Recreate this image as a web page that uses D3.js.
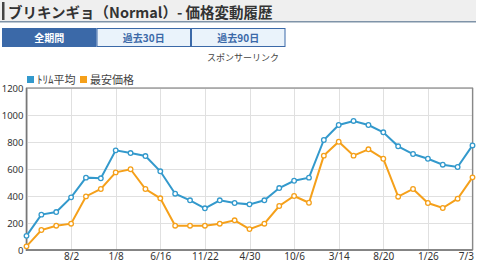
<!DOCTYPE html>
<html><head><meta charset="utf-8">
<script src="https://cdn.jsdelivr.net/npm/d3@7"></script>
<style>
html,body{margin:0;padding:0;background:#fff;}
svg{display:block;font-family:"Noto Sans CJK JP","Noto Sans",sans-serif;}
</style></head>
<body><svg id="c" width="480" height="267"></svg>
<script>
const categories = ["2/24","4/18","6/10","8/2","9/24","11/16","1/8","3/2","4/24","6/16","8/8","9/30","11/22","1/14","3/8","4/30","6/22","8/14","10/6","11/28","1/20","3/14","5/6","6/28","8/20","10/12","12/4","1/26","3/20","5/12","7/3"];
const tickLabels = ["8/2","1/8","6/16","11/22","4/30","10/6","3/14","8/20","1/26","7/3"];
const trimAvg = [105,262,281,390,536,531,738,718,696,583,417,368,309,368,348,338,368,459,513,536,815,926,956,926,872,768,711,676,632,615,775];
const lowest = [27,148,180,195,397,452,575,598,452,383,180,180,180,195,220,155,195,326,400,350,699,802,699,746,676,395,452,348,311,380,538];
const yTicks = [0,200,400,600,800,1000,1200];
const seriesNames = ["ﾄﾘﾑ平均","最安価格"];
const colors = ["#3399cc","#f5a01a"];

const svg = d3.select("#c");
// title bar
svg.append("rect").attr("x",0).attr("y",0).attr("width",476).attr("height",21).attr("fill","#efefef");
svg.append("rect").attr("x",0).attr("y",21).attr("width",476).attr("height",1.5).attr("fill","#7f93a8");
svg.append("rect").attr("x",2).attr("y",2).attr("width",2.5).attr("height",18).attr("fill","#444");
svg.append("text").attr("x",8).attr("y",17.5).attr("font-size",14.5).attr("font-weight","bold").attr("fill","#333")
  .text("ブリキンギョ（Normal）- 価格変動履歴");

// tabs
const tabs = ["全期間","過去30日","過去90日"];
const tabX = [2,96.5,191], tabW = 94.5;
tabs.forEach((t,i)=>{
  svg.append("rect").attr("x",tabX[i]+0.5).attr("y",28.5).attr("width",tabW-1).attr("height",18)
    .attr("fill", i===0 ? "#3b69a8" : "#eaf3fb").attr("stroke","#3b69a8").attr("stroke-width",1);
  svg.append("text").attr("x",tabX[i]+tabW/2).attr("y",41.5).attr("text-anchor","middle")
    .attr("font-size",10).attr("font-weight","bold").attr("fill", i===0 ? "#fff" : "#3b69a8").text(t);
});
svg.append("text").attr("x",243).attr("y",61).attr("text-anchor","middle").attr("font-size",9).attr("fill","#444").text("スポンサーリンク");

// chart
const L=26.5, R=472.5, T=88, B=250;
const x = d3.scalePoint().domain(categories).range([L,R]);
const y = d3.scaleLinear().domain([0,1200]).range([B,T]);

const g = svg.append("g");
// grid
g.selectAll(".hg").data(yTicks).join("line").attr("x1",L).attr("x2",R).attr("y1",d=>Math.round(y(d))+0.5).attr("y2",d=>Math.round(y(d))+0.5)
  .attr("stroke","#e0e0e0").attr("stroke-width",1);
const vIdx = categories.filter((c,i)=>i%3===0);
g.selectAll(".vg").data(vIdx).join("line").attr("y1",T).attr("y2",B).attr("x1",d=>Math.round(x(d))+0.5).attr("x2",d=>Math.round(x(d))+0.5)
  .attr("stroke","#e0e0e0").attr("stroke-width",1);
// frame
g.append("rect").attr("x",L).attr("y",T).attr("width",R-L).attr("height",B-T).attr("fill","none").attr("stroke","#888").attr("stroke-width",1.2);
g.append("line").attr("x1",L).attr("x2",L).attr("y1",T).attr("y2",B+1).attr("stroke","#777").attr("stroke-width",1.5);
g.append("line").attr("x1",L).attr("x2",R).attr("y1",B).attr("y2",B).attr("stroke","#777").attr("stroke-width",1.5);

// y axis labels
const yAxis = d3.axisLeft(y).tickValues(yTicks).tickSize(0).tickPadding(3).tickFormat(d3.format("d"));
const ya = svg.append("g").attr("transform",`translate(${L},0)`).call(yAxis);
ya.select(".domain").remove();
ya.selectAll("text").attr("font-size",9.5).attr("fill","#333").attr("font-family","Noto Sans, sans-serif");

// x axis labels
const xAxis = d3.axisBottom(x).tickValues(categories.filter((c,i)=>i>0 && i%3===0)).tickSize(0).tickPadding(3)
  .tickFormat((d)=>d);
const xa = svg.append("g").attr("transform",`translate(0,${B})`).call(xAxis);
xa.select(".domain").remove();
xa.selectAll("text").attr("font-size",10).attr("fill","#333").attr("font-family","Noto Sans, sans-serif");
xa.selectAll(".tick").filter((d,i)=>d===categories[categories.length-1]).select("text").attr("text-anchor","end").attr("dx",1);

// series
const series = [trimAvg, lowest];
const line = d3.line().x((d,i)=>x(categories[i])).y(d=>y(d));
series.forEach((s,k)=>{
  svg.append("path").datum(s).attr("d",line).attr("fill","none").attr("stroke",colors[k]).attr("stroke-width",2);
  svg.selectAll(null).data(s).join("circle").attr("cx",(d,i)=>x(categories[i])).attr("cy",d=>y(d)).attr("r",2.3)
    .attr("fill","#fff").attr("stroke",colors[k]).attr("stroke-width",1.3);
});

// legend
const lx = [27,80];
seriesNames.forEach((n,k)=>{
  svg.append("rect").attr("x",lx[k]).attr("y",76).attr("width",7).attr("height",7).attr("fill",colors[k]);
  svg.append("text").attr("x",lx[k]+10).attr("y",83.5).attr("font-size",11).attr("fill","#444").text(n);
});
</script></body></html>
